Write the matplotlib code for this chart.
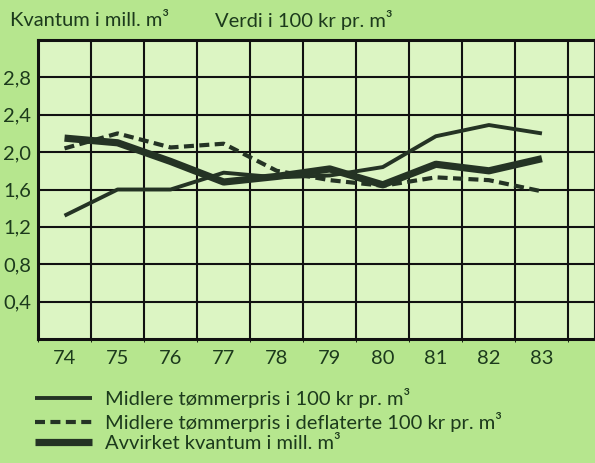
import numpy as np
import matplotlib
matplotlib.use("Agg")
import matplotlib.pyplot as plt
from matplotlib.ticker import MultipleLocator

# data
years = [74, 75, 76, 77, 78, 79, 80, 81, 82, 83]
pris = [1.32, 1.60, 1.60, 1.78, 1.73, 1.75, 1.84, 2.17, 2.29, 2.20]
pris_defl = [2.04, 2.20, 2.05, 2.09, 1.80, 1.70, 1.64, 1.73, 1.70, 1.58]
kvantum = [2.15, 2.10, 1.90, 1.68, 1.74, 1.82, 1.65, 1.87, 1.80, 1.93]
ytick_vals = [0.4, 0.8, 1.2, 1.6, 2.0, 2.4, 2.8]
ytick_labels = ["0,4", "0,8", "1,2", "1,6", "2,0", "2,4", "2,8"]

labels = ["Midlere tømmerpris i 100 kr pr. m³",
          "Midlere tømmerpris i deflaterte 100 kr pr. m³",
          "Avvirket kvantum i mill. m³"]

outer_bg = "#b6e68e"
inner_bg = "#dcf5c3"
ink = "#243324"
txt = "#1c3a1c"
fs = 14.5

plt.rcParams['font.family'] = ['Lato', 'DejaVu Sans']

fig = plt.figure(figsize=(5.95, 4.63), dpi=100)
fig.patch.set_facecolor(outer_bg)
ax = fig.add_axes([38/595, 1 - 339/463, 1 - 38/595, (339 - 40)/463])
ax.set_facecolor(inner_bg)

ax.set_xlim(73.5, 84.0)
ax.set_ylim(0, 3.2)

# grid: every half year, every 0.4
ax.xaxis.set_minor_locator(MultipleLocator(0.5))
ax.yaxis.set_major_locator(MultipleLocator(0.4))
ax.grid(which="minor", axis="x", color="#111", lw=1.5)
ax.grid(which="major", axis="y", color="#111", lw=1.5)
ax.set_axisbelow(True)

l1, = ax.plot(years, pris, color=ink, lw=2.8, solid_capstyle="butt")
l2, = ax.plot(years, pris_defl, color=ink, lw=3.0, dashes=(2.4, 1.3))
l3, = ax.plot(years, kvantum, color=ink, lw=5.2, solid_capstyle="butt")

ax.set_xticks(years)
ax.set_xticklabels([str(y) for y in years], fontsize=fs, color=txt)
ax.set_yticks(ytick_vals)
ax.set_yticklabels(ytick_labels, fontsize=fs, color=txt)
ax.tick_params(length=0)
ax.tick_params(axis="y", pad=5)
ax.tick_params(axis="x", pad=8)

for s in ax.spines.values():
    s.set_color("#111")
    s.set_linewidth(2.2)

fig.text(10/595, 1 - 20/463, "Kvantum i mill. m³", fontsize=fs, color=txt, va="center")
fig.text(215/595, 1 - 20/463, "Verdi i 100 kr pr. m³", fontsize=fs, color=txt, va="center")

leg = fig.legend([l1, l2, l3], labels, loc="upper left",
                 bbox_to_anchor=(35/595, 1 - 388/463), frameon=False,
                 fontsize=fs, handlelength=2.85, handletextpad=0.65,
                 labelspacing=0.18, borderpad=0, borderaxespad=0)
for t in leg.get_texts():
    t.set_color(txt)

fig.savefig("out.png", dpi=100, facecolor=outer_bg)
